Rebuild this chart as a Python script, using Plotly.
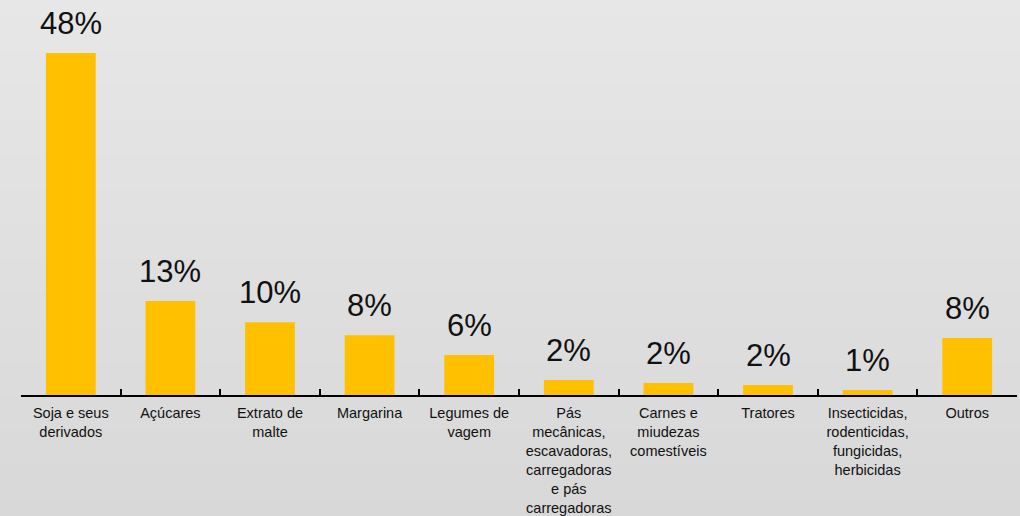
import plotly.graph_objects as go

categories = [
    "Soja e seus<br>derivados",
    "Açúcares",
    "Extrato de<br>malte",
    "Margarina",
    "Legumes de<br>vagem",
    "Pás<br>mecânicas,<br>escavadoras,<br>carregadoras<br>e pás<br>carregadoras",
    "Carnes e<br>miudezas<br>comestíveis",
    "Tratores",
    "Insecticidas,<br>rodenticidas,<br>fungicidas,<br>herbicidas",
    "Outros",
]
values = [48.0, 13.2, 10.2, 8.4, 5.6, 2.1, 1.7, 1.4, 0.7, 8.0]
labels = ["48%", "13%", "10%", "8%", "6%", "2%", "2%", "2%", "1%", "8%"]

W, H = 1020, 516
ML, MR, MT, MB = 21, 3, 10, 121
plot_h = H - MT - MB
plot_w = W - ML - MR

fig = go.Figure()
fig.add_trace(go.Bar(
    x=categories, y=values, marker=dict(color="#FFC000", line=dict(width=0)),
    width=0.5, cliponaxis=False, hoverinfo="skip",
))

for c, v, t in zip(categories, values, labels):
    fig.add_annotation(x=c, y=v, text=t, showarrow=False, yanchor="bottom",
                       yshift=10, font=dict(size=31, color="#111111",
                                            family="Liberation Sans, Arial"))

# gradient background bands
n = 60
y0p = -MB / plot_h
y1p = (plot_h + MT) / plot_h
shapes = []
for i in range(n):
    f = i / (n - 1)
    c = round(216 + (231 - 216) * f)
    shapes.append(dict(type="rect", xref="paper", yref="paper",
                       x0=-ML / plot_w, x1=1 + MR / plot_w,
                       y0=y0p + (y1p - y0p) * i / n,
                       y1=y0p + (y1p - y0p) * (i + 1) / n + 0.002,
                       fillcolor=f"rgb({c},{c},{c})", line=dict(width=0),
                       layer="below"))

fig.update_layout(
    width=W, height=H,
    margin=dict(l=ML, r=MR, t=MT, b=MB, autoexpand=False),
    paper_bgcolor="#dfdfdf", plot_bgcolor="rgba(0,0,0,0)",
    shapes=shapes, showlegend=False,
    font=dict(family="Liberation Sans, Arial", color="#111111"),
    xaxis=dict(showline=True, linecolor="#000000", linewidth=2,
               ticks="inside", tickson="boundaries", ticklen=6, tickwidth=1.5,
               tickcolor="#000000", showgrid=False, automargin=False,
               tickfont=dict(size=14.5, color="#111111"), tickangle=0,
               ticklabelstandoff=4),
    yaxis=dict(range=[0, plot_h / 7.125], visible=False, showgrid=False,
               zeroline=False, automargin=False),
    bargap=0.5,
)

fig.write_html(
    "out.html",
    config={"displayModeBar": False},
    post_script="document.body.style.margin='0';document.body.style.overflow='hidden';",
)
